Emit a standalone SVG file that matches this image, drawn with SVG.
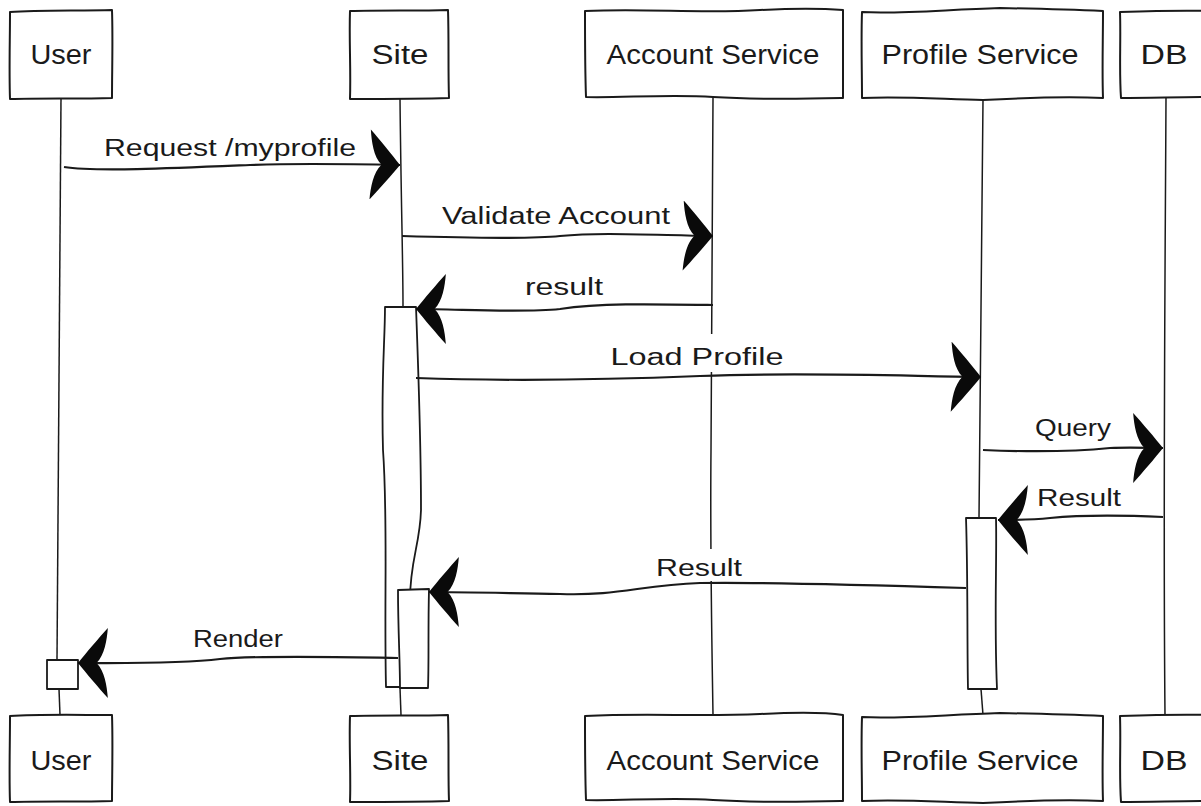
<svg xmlns="http://www.w3.org/2000/svg" width="1201" height="806" viewBox="0 0 1201 806">
<style>
.box{fill:#fff;stroke:#1a1a1a;stroke-width:2;stroke-linejoin:round}
.life{fill:none;stroke:#1a1a1a;stroke-width:1.5}
.act{fill:#fff;stroke:#1a1a1a;stroke-width:1.8;stroke-linejoin:round}
.msg{fill:none;stroke:#1a1a1a;stroke-width:2.2;marker-end:url(#ah)}
.nm{font-family:"Liberation Sans",Arial,sans-serif;font-size:27px;fill:#1a1a1a;text-anchor:middle}
.lbl{font-family:"Liberation Sans",Arial,sans-serif;font-size:23px;fill:#1a1a1a;text-anchor:middle}
.bg{fill:#fff}
</style>
<defs>
<marker id="ah" markerUnits="userSpaceOnUse" markerWidth="36" markerHeight="70" viewBox="0 0 34 68" refX="32" refY="34" orient="auto">
<path d="M32,34 C24,24 12,10 3,0 C4,12 6,26 14,34 C6,42 4,56 3,68 C12,58 24,44 32,34 Z" fill="#0a0a0a"/>
</marker>
</defs>

<g id="lifelines">
<path class="life" d="M61,98 C59,250 57,450 57,660"/>
<path class="life" d="M59,689 L60,715"/>
<path class="life" d="M400,98 C401,200 403,260 403,307"/>
<path class="life" d="M400,688 L401,715"/>
<path class="life" d="M713,98 C712,200 712,350 711,450 C710,550 712,650 713,715"/>
<path class="life" d="M983,100 C982,250 980,400 979,518"/>
<path class="life" d="M981,689 L983,715"/>
<path class="life" d="M1166,98 C1165,300 1163,500 1165,715"/>
</g>

<g id="activations">
<path class="act" d="M385,307 L416,307 C418,360 421,450 421,510 C420,545 410,560 410,600 L410,687 L386,687 C384,600 388,520 383,450 C381,380 385,340 385,307 Z"/>
<path class="act" d="M398,590 L429,589 C428,630 429,660 428,688 L400,688 C400,660 398,630 398,590 Z"/>
<path class="act" d="M966,518 L996,518 C997,560 994,620 997,689 L968,689 C967,640 968,580 966,518 Z"/>
<path class="act" d="M47,660 L78,660 L78,689 L47,689 Z"/>
</g>

<g id="connectors">
<path class="msg" d="M64,167 C95,172 180,168 250,165 C300,163 350,164 400,165"/>
<path class="msg" d="M402,236 C470,238 530,239 560,236 C600,232 650,235 713,236"/>
<path class="msg" d="M713,305 C650,304 600,303 560,309 C520,313 460,309 416,309"/>
<path class="msg" d="M416,378 C500,381 600,380 700,376 C800,372 900,376 981,377"/>
<path class="msg" d="M983,450 C1030,452 1080,451 1110,448 C1130,447 1150,448 1163,448"/>
<path class="msg" d="M1163,517 C1120,515 1080,515 1050,518 C1030,520 1010,520 998,520"/>
<path class="msg" d="M966,588 C870,585 760,582 700,583 C640,585 620,596 560,594 C500,593 460,592 429,592"/>
<path class="msg" d="M398,658 C340,657 260,655 220,659 C180,664 120,663 78,663"/>
<rect class="bg" x="609" y="334" width="178" height="38"/>
<rect class="bg" x="653" y="549" width="92" height="32"/>
<text class="lbl" x="230" y="156" textLength="252" lengthAdjust="spacingAndGlyphs">Request /myprofile</text>
<text class="lbl" x="556" y="224" textLength="228" lengthAdjust="spacingAndGlyphs">Validate Account</text>
<text class="lbl" x="564" y="295" textLength="78" lengthAdjust="spacingAndGlyphs">result</text>
<text class="lbl" x="697" y="365" textLength="173" lengthAdjust="spacingAndGlyphs">Load Profile</text>
<text class="lbl" x="1073" y="436" textLength="76" lengthAdjust="spacingAndGlyphs">Query</text>
<text class="lbl" x="1079" y="506" textLength="84" lengthAdjust="spacingAndGlyphs">Result</text>
<text class="lbl" x="699" y="576" textLength="86" lengthAdjust="spacingAndGlyphs">Result</text>
<text class="lbl" x="238" y="647" textLength="90" lengthAdjust="spacingAndGlyphs">Render</text>
</g>

<g id="user-top">
<path class="box" d="M10,12 C40,10 80,11 112,10 C113,40 112,70 112,98 C80,99 40,98 10,99 C9,70 10,40 10,12 Z"/>
<text class="nm" x="61" y="64" textLength="61" lengthAdjust="spacingAndGlyphs">User</text>
</g>
<g id="site-top">
<path class="box" d="M350,11 C380,10 420,11 448,10 C449,40 448,70 449,98 C420,99 380,99 350,99 C351,70 349,40 350,11 Z"/>
<text class="nm" x="400" y="64" textLength="57" lengthAdjust="spacingAndGlyphs">Site</text>
</g>
<g id="account-top">
<path class="box" d="M585,11 C650,8 700,14 760,10 C800,8 830,9 843,10 C843,40 843,70 843,98 C800,99 760,100 713,97 C670,94 620,98 586,97 C585,70 585,40 585,11 Z"/>
<text class="nm" x="713" y="64" textLength="213" lengthAdjust="spacingAndGlyphs">Account Service</text>
</g>
<g id="profile-top">
<path class="box" d="M862,12 C900,14 940,10 1000,8 C1050,9 1080,10 1103,11 C1103,40 1102,70 1103,98 C1060,96 1020,98 983,100 C940,99 900,96 862,98 C862,70 861,40 862,12 Z"/>
<text class="nm" x="980" y="64" textLength="197" lengthAdjust="spacingAndGlyphs">Profile Service</text>
</g>
<g id="db-top">
<path class="box" d="M1120,12 C1150,11 1180,10 1210,11 L1210,97 C1180,97 1150,98 1121,98 C1119,70 1121,40 1120,12 Z"/>
<text class="nm" x="1164" y="64" textLength="47" lengthAdjust="spacingAndGlyphs">DB</text>
</g>

<g id="user-bottom">
<path class="box" d="M10,716 C40,714 80,715 112,715 C113,745 112,775 112,801 C80,802 40,801 10,802 C9,775 10,745 10,716 Z"/>
<text class="nm" x="61" y="770" textLength="61" lengthAdjust="spacingAndGlyphs">User</text>
</g>
<g id="site-bottom">
<path class="box" d="M350,716 C380,715 420,716 448,715 C449,745 448,775 449,801 C420,802 380,802 350,802 C351,775 349,745 350,716 Z"/>
<text class="nm" x="400" y="770" textLength="57" lengthAdjust="spacingAndGlyphs">Site</text>
</g>
<g id="account-bottom">
<path class="box" d="M585,716 C650,713 700,717 760,714 C800,712 830,713 843,715 C843,745 843,775 843,801 C800,802 760,803 713,800 C670,797 620,801 586,800 C585,775 585,745 585,716 Z"/>
<text class="nm" x="713" y="770" textLength="213" lengthAdjust="spacingAndGlyphs">Account Service</text>
</g>
<g id="profile-bottom">
<path class="box" d="M862,717 C900,719 940,715 1000,713 C1050,714 1080,715 1103,716 C1103,745 1102,775 1103,801 C1060,799 1020,801 983,803 C940,802 900,799 862,801 C862,775 861,745 862,717 Z"/>
<text class="nm" x="980" y="770" textLength="197" lengthAdjust="spacingAndGlyphs">Profile Service</text>
</g>
<g id="db-bottom">
<path class="box" d="M1120,716 C1150,715 1180,714 1210,715 L1210,801 C1180,801 1150,802 1121,802 C1119,775 1121,745 1120,716 Z"/>
<text class="nm" x="1164" y="770" textLength="47" lengthAdjust="spacingAndGlyphs">DB</text>
</g>
</svg>
